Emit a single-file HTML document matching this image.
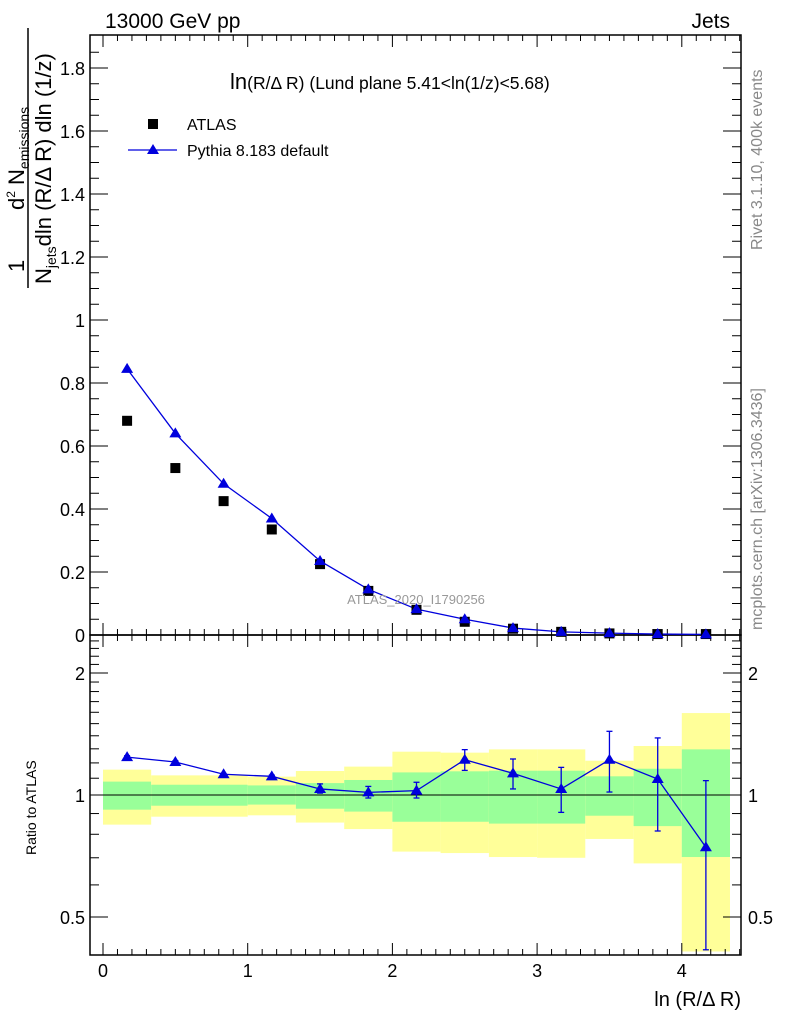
<!DOCTYPE html>
<html><head><meta charset="utf-8"><style>
body{margin:0;background:#fff;}
svg{display:block;font-family:"Liberation Sans",sans-serif;}
</style></head><body>
<svg id="chart" width="786" height="1024" viewBox="0 0 786 1024" xmlns="http://www.w3.org/2000/svg">
<g id="bands"></g>
<g id="axes"></g>
<g id="marks"></g>
<text x="105" y="28" font-size="21">13000 GeV pp</text>
<text x="730" y="28" font-size="21" text-anchor="end">Jets</text>
<text x="230" y="89" font-size="17.5"><tspan font-size="22">ln</tspan>(R/Δ R) (Lund plane 5.41&lt;ln(1/z)&lt;5.68)</text>
<g>
<rect x="148" y="119" width="10" height="10" fill="#000"/>
<text x="187" y="130" font-size="16">ATLAS</text>
<line x1="128" y1="150" x2="177" y2="150" stroke="#0000dd" stroke-width="1.3"/>
<polygon points="153,144 159,154 147,154" fill="#0000dd"/>
<text x="187" y="156" font-size="16">Pythia 8.183 default</text>
</g>
<text x="416" y="604" font-size="13" fill="#999" text-anchor="middle">ATLAS_2020_I1790256</text>
<text transform="translate(762,250) rotate(-90)" font-size="16" fill="#888">Rivet 3.1.10,  400k events</text>
<text transform="translate(762,630) rotate(-90)" font-size="16" fill="#888">mcplots.cern.ch [arXiv:1306.3436]</text>
<g>
<text transform="translate(24,272) rotate(-90)" font-size="22">1</text>
<line x1="28" y1="288" x2="28" y2="28" stroke="#000" stroke-width="1.5"/>
<text transform="translate(24,210) rotate(-90)" font-size="22">d<tspan font-size="12" dy="-9">2</tspan><tspan dy="9"> N</tspan><tspan font-size="14" dy="5">emissions</tspan></text>
<text transform="translate(51,284) rotate(-90)" font-size="22">N<tspan font-size="14" dy="5">jets</tspan><tspan dy="-5">dln (R/Δ R) dln (1/z)</tspan></text>
</g>
<text transform="translate(36,855) rotate(-90)" font-size="14">Ratio to ATLAS</text>
<text x="741" y="1006" font-size="20" text-anchor="end">ln (R/Δ R)</text>
</svg>
<script>
const binEdges=[0,0.333,0.667,1,1.333,1.667,2,2.333,2.667,3,3.333,3.667,4,4.333];
const atlasValues=[0.68,0.53,0.425,0.335,0.225,0.14,0.08,0.042,0.02,0.01,0.005,0.003,0.003];
const pythiaValues=[0.845,0.64,0.48,0.37,0.235,0.145,0.082,0.05,0.022,0.01,0.006,0.003,0.002];
const ratioValues=[1.24,1.206,1.125,1.112,1.035,1.015,1.025,1.222,1.131,1.035,1.222,1.095,0.743];
const ratioErrHi=[1.25,1.215,1.13,1.12,1.065,1.05,1.075,1.294,1.227,1.17,1.436,1.383,1.085];
const ratioErrLo=[1.23,1.2,1.12,1.105,1.011,0.983,0.983,1.15,1.035,0.906,1.017,0.815,0.415];
const yellowHi=[1.155,1.118,1.118,1.110,1.146,1.175,1.279,1.272,1.296,1.296,1.215,1.321,1.593];
const yellowLo=[0.845,0.884,0.884,0.891,0.855,0.824,0.725,0.719,0.703,0.700,0.779,0.678,0.411];
const greenHi=[1.079,1.060,1.060,1.056,1.070,1.089,1.137,1.144,1.148,1.148,1.112,1.161,1.296];
const greenLo=[0.920,0.941,0.941,0.947,0.925,0.910,0.859,0.859,0.850,0.850,0.889,0.838,0.703];
const xTicks=[0,1,2,3,4];
const mainYTicks=[0,0.2,0.4,0.6,0.8,1,1.2,1.4,1.6,1.8];
const mainYLabels=["0","0.2","0.4","0.6","0.8","1","1.2","1.4","1.6","1.8"];
const ratioTicks=[0.5,1,2];
const ratioLabels=["0.5","1","2"];

const NS="http://www.w3.org/2000/svg";
const L=90,R=741,T1=35,B1=635,T2=635,B2=955;
const X=v=>103+v*144.7;
const Y=v=>635-v*315;
const YR=v=>795-Math.log(v)*176;
function mk(tag,attrs,parent){const e=document.createElementNS(NS,tag);for(const k in attrs)e.setAttribute(k,attrs[k]);document.getElementById(parent).appendChild(e);return e;}
const cen=i=>(binEdges[i]+binEdges[i+1])/2;

for(let i=0;i<atlasValues.length;i++){
  const x1=X(binEdges[i]),x2=X(binEdges[i+1]);
  let e=mk('rect',{x:x1,y:YR(yellowHi[i]),width:x2-x1,height:YR(yellowLo[i])-YR(yellowHi[i]),fill:'#ffff99'},'bands');
  
  
  e=mk('rect',{x:x1,y:YR(greenHi[i]),width:x2-x1,height:YR(greenLo[i])-YR(greenHi[i]),fill:'#99ff99'},'bands');
  
  
}
let f=mk('rect',{x:L,y:T1,width:R-L,height:B1-T1,fill:'none',stroke:'#000','stroke-width':1.5},'axes');


f=mk('rect',{x:L,y:T2,width:R-L,height:B2-T2,fill:'none',stroke:'#000','stroke-width':1.5},'axes');


mk('line',{x1:L,x2:R,y1:YR(1),y2:YR(1),stroke:'#000','stroke-width':1},'axes');
for(let v=0;v<=4.4;v+=0.1){
  const vv=Math.round(v*10)/10,maj=Math.abs(vv-Math.round(vv))<1e-6,len=maj?12:6,x=X(vv);
  if(x>R)break;
  [[B1,-1],[T1,1],[B2,-1],[T2,1]].forEach(([y,d])=>mk('line',{x1:x,x2:x,y1:y,y2:y+d*len,stroke:'#000'},'axes'));
}
xTicks.forEach(v=>{const t=mk('text',{x:X(v),y:977,'font-size':18,'text-anchor':'middle'},'axes');t.textContent=v;

});
for(let v=0;v<=1.9;v+=0.05){
  const vv=Math.round(v*100)/100,maj=Math.abs(vv*5-Math.round(vv*5))<1e-6,len=maj?18:9,y=Y(vv);
  mk('line',{x1:L,x2:L+len,y1:y,y2:y,stroke:'#000'},'axes');
  mk('line',{x1:R,x2:R-len,y1:y,y2:y,stroke:'#000'},'axes');
}
mainYTicks.forEach((v,i)=>{const t=mk('text',{x:85,y:Y(v)+7,'font-size':18,'text-anchor':'end'},'axes');t.textContent=mainYLabels[i];

});
for(let v=0.4;v<=2.45;v+=0.1){
  const vv=Math.round(v*10)/10,y=YR(vv);if(y<T2||y>B2)continue;
  const maj=ratioTicks.includes(vv),len=maj?18:9;
  mk('line',{x1:L,x2:L+len,y1:y,y2:y,stroke:'#000'},'axes');
  mk('line',{x1:R,x2:R-len,y1:y,y2:y,stroke:'#000'},'axes');
}
ratioTicks.forEach((v,i)=>{
  let t=mk('text',{x:85,y:YR(v)+7,'font-size':18,'text-anchor':'end'},'axes');t.textContent=ratioLabels[i];
  
  
  t=mk('text',{x:748,y:YR(v)+7,'font-size':18},'axes');t.textContent=ratioLabels[i];
  
  
});
const clipY=v=>Math.min(Y(v),B1);
let pl=mk('polyline',{points:pythiaValues.map((v,i)=>X(cen(i))+','+clipY(v)).join(' '),fill:'none',stroke:'#0000dd','stroke-width':1.3},'marks');


atlasValues.forEach((v,i)=>{const r=mk('rect',{x:X(cen(i))-5,y:Y(v)-5,width:10,height:10,fill:'#000'},'marks');

});
pythiaValues.forEach((v,i)=>{const x=X(cen(i)),y=Y(v);const p=mk('polygon',{points:`${x},${y-6} ${x+6},${y+4} ${x-6},${y+4}`,fill:'#0000dd'},'marks');

});
pl=mk('polyline',{points:ratioValues.map((v,i)=>X(cen(i))+','+YR(v)).join(' '),fill:'none',stroke:'#0000dd','stroke-width':1.3},'marks');


ratioValues.forEach((v,i)=>{
  const x=X(cen(i)),y=YR(v);
  const e=mk('line',{x1:x,x2:x,y1:YR(ratioErrHi[i]),y2:YR(ratioErrLo[i]),stroke:'#0000dd','stroke-width':1.3},'marks');
  
  
  [ratioErrHi[i],ratioErrLo[i]].forEach(w=>mk('line',{x1:x-3,x2:x+3,y1:YR(w),y2:YR(w),stroke:'#0000dd','stroke-width':1.3},'marks'));
  const p=mk('polygon',{points:`${x},${y-6} ${x+6},${y+4} ${x-6},${y+4}`,fill:'#0000dd'},'marks');
  
  
});
</script>
</body></html>
